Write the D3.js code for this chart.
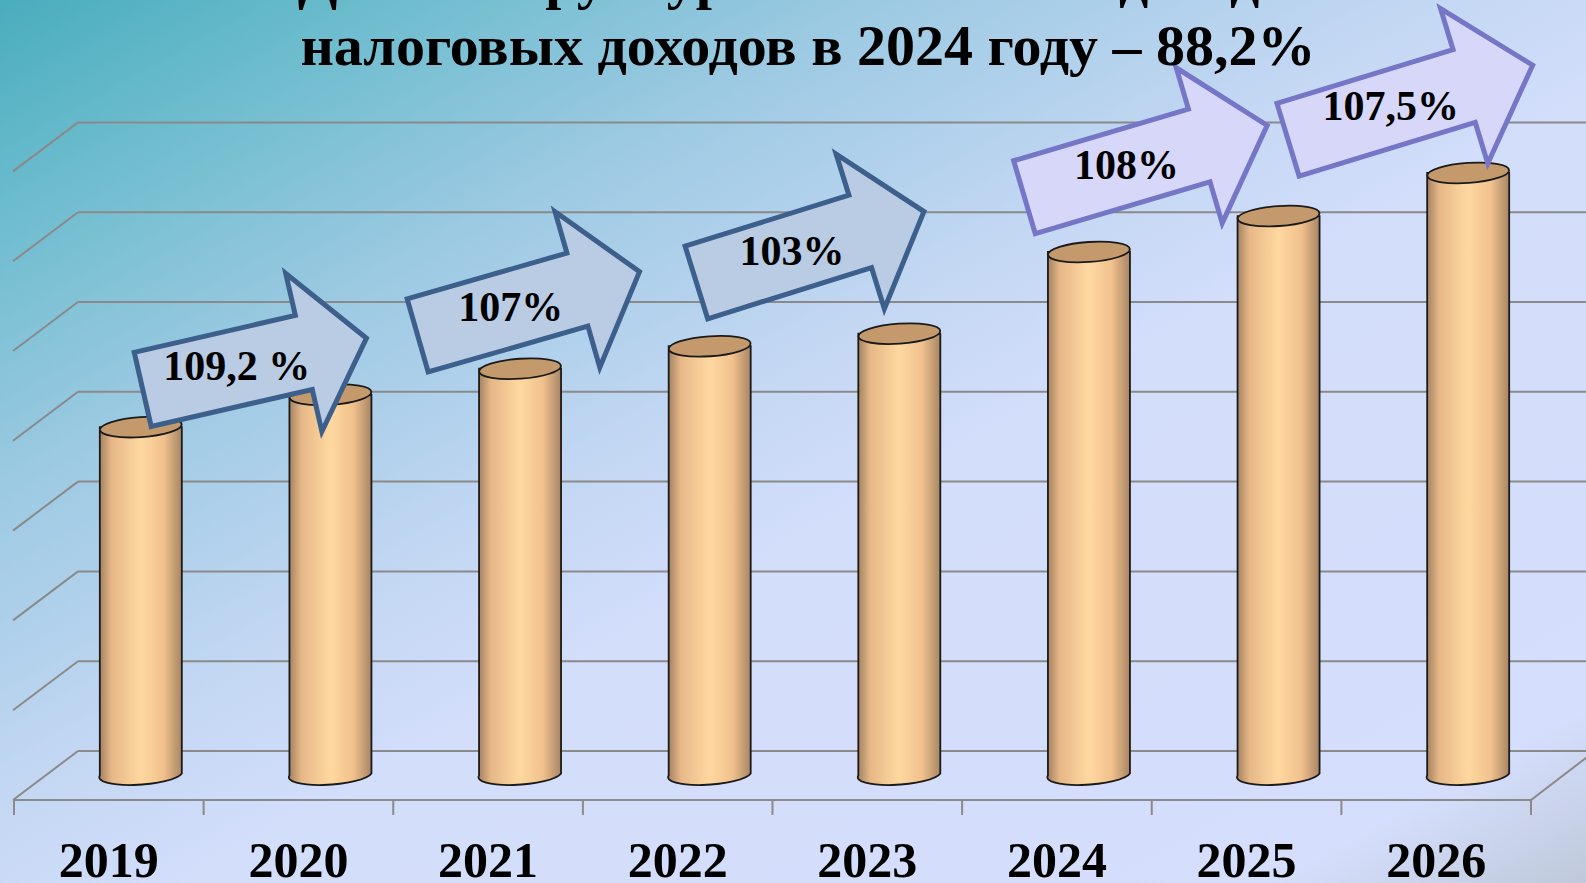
<html>

<head>
    <style>
        body { margin: 0; overflow: hidden; }
        text { font-family: "Liberation Serif", "Times New Roman", serif; font-weight: bold; }
    </style>
</head>

<body>
    <svg id="container" width="1586" height="883"></svg>
</body>
<script src="https://cdn.jsdelivr.net/npm/d3@7"></script>
<script>
    // chart data
    let years = ["2019", "2020", "2021", "2022", "2023", "2024", "2025", "2026"]
    let values = [3880, 4240, 4530, 4780, 4920, 5830, 6230, 6710]
    let gridTicks = [0, 1000, 2000, 3000, 4000, 5000, 6000, 7000]

    // growth arrows: label, start/end as (category index, value)
    let growthLabels = ["109,2 %", "107%", "103%", "108%", "107,5%"]
    let growthFromIdx = [0.01, 1.46, 2.93, 4.66, 6.05]
    let growthToIdx = [1.19, 2.63, 4.13, 5.94, 7.34]
    let growthFromVal = [4300, 4900, 5490, 6440, 7080]
    let growthToVal = [4870, 5610, 6280, 7240, 7910]

    let titleLines = ["Доля в структуре собственных доходов", "налоговых доходов в 2024 году – 88,2%"]

    let svg = d3.select("#container")
    let width = 1586, height = 883

    // 3D depth offset of the back wall
    let depthX = 64, depthY = -49

    let x = d3.scaleBand().domain(years).range([14, 1531])
    let y = d3.scaleLinear().domain([0, 7000]).range([800, 800 - 7 * 89.8])

    // background
    let defs = svg.append("defs")
    let bg = defs.append("linearGradient").attr("id", "bg")
        .attr("x1", 0).attr("y1", 0).attr("x2", 1).attr("y2", 1)
    ;[[0, "#49adbd"], [0.12, "#6cbccd"], [0.28, "#9dcae3"], [0.45, "#c3d7f3"],
      [0.56, "#d3defb"], [0.9, "#d5defc"], [1, "#bfc9da"]].forEach(s =>
        bg.append("stop").attr("offset", s[0]).attr("stop-color", s[1]))

    let cyl = defs.append("linearGradient").attr("id", "cyl")
        .attr("x1", 0).attr("y1", 0).attr("x2", 1).attr("y2", 0)
    ;[[0, "#a28060"], [0.15, "#e6b787"], [0.5, "#ffd8a0"], [0.78, "#f1c18d"], [1, "#a88564"]]
        .forEach(s => cyl.append("stop").attr("offset", s[0]).attr("stop-color", s[1]))

    svg.append("rect").attr("width", width).attr("height", height).attr("fill", "url(#bg)")

    // walls and floor grid
    let grid = svg.append("g").attr("stroke", "#8a8a8a").attr("stroke-width", 2).attr("fill", "none")
    grid.selectAll(".back").data(gridTicks).enter().append("line")
        .attr("x1", x.range()[0] + depthX).attr("x2", width + 20)
        .attr("y1", d => y(d) + depthY).attr("y2", d => y(d) + depthY)
    grid.selectAll(".side").data(gridTicks).enter().append("line")
        .attr("x1", x.range()[0] - 1).attr("y1", d => y(d))
        .attr("x2", x.range()[0] + depthX).attr("y2", d => y(d) + depthY)
    grid.append("path")
        .attr("d", `M${x.range()[0]},${y(0)} H${x.range()[1]} l${depthX},${depthY}`)
    grid.selectAll(".tick").data(d3.range(years.length + 1)).enter().append("line")
        .attr("x1", i => x.range()[0] + i * x.bandwidth()).attr("x2", i => x.range()[0] + i * x.bandwidth())
        .attr("y1", y(0)).attr("y2", y(0) + 15)

    // cylinders
    let r = 41, ry = 10
    let cx = d => x(d) + x.bandwidth() / 2 + depthX / 2
    let cyOf = v => y(v) + depthY / 2

    let bars = svg.selectAll(".bar").data(years.map((d, i) => ({ year: d, value: values[i] })))
        .enter().append("g")
    bars.append("path")
        .attr("d", d => {
            let c = cx(d.year), top = cyOf(d.value), bot = cyOf(0)
            return `M${c - r},${top} L${c - r},${bot} A${r},${ry} -4 0 0 ${c + r},${bot - 2} L${c + r},${top} Z`
        })
        .attr("fill", "url(#cyl)").attr("stroke", "#1a1a1a").attr("stroke-width", 1.8)
    bars.append("ellipse")
        .attr("cx", d => cx(d.year)).attr("cy", d => cyOf(d.value))
        .attr("rx", r).attr("ry", ry)
        .attr("transform", d => `rotate(-4,${cx(d.year)},${cyOf(d.value)})`)
        .attr("fill", "#c49a6c").attr("stroke", "#1a1a1a").attr("stroke-width", 1.8)

    // growth arrows
    let idxX = d3.scaleLinear().domain([0, years.length - 1]).range([cx(years[0]), cx(years[years.length - 1])])
    let arrows = growthLabels.map((label, i) => ({
        label: label,
        x0: idxX(growthFromIdx[i]), y0: cyOf(growthFromVal[i]),
        x1: idxX(growthToIdx[i]), y1: cyOf(growthToVal[i]),
        i: i
    }))

    let ag = svg.selectAll(".arrow").data(arrows).enter().append("g")
    ag.append("path")
        .attr("d", d => {
            let L = Math.hypot(d.x1 - d.x0, d.y1 - d.y0)
            let hl = L * 0.28, w = 38, h = 81
            return `M0,${-w} L${L - hl},${-w} L${L - hl},${-h} L${L},0 L${L - hl},${h} L${L - hl},${w} L0,${w} Z`
        })
        .attr("transform", d => `translate(${d.x0},${d.y0}) rotate(${Math.atan2(d.y1 - d.y0, d.x1 - d.x0) * 180 / Math.PI})`)
        .attr("fill", d => d.i < 3 ? "#b9cce4" : "#d7d7fa")
        .attr("stroke", d => d.i < 3 ? "#3d5f8c" : "#7676c6")
        .attr("stroke-width", 5)
        .attr("stroke-linejoin", "miter")
    ag.append("text")
        .attr("x", d => d.x0 + 0.42 * (d.x1 - d.x0))
        .attr("y", d => d.y0 + 0.42 * (d.y1 - d.y0) + 12)
        .attr("text-anchor", "middle")
        .style("font-size", "42px")
        .text(d => d.label)

    // year labels
    svg.selectAll(".year").data(years).enter().append("text")
        .attr("x", d => x(d) + x.bandwidth() / 2)
        .attr("y", 877)
        .attr("text-anchor", "middle")
        .style("font-size", "50px")
        .text(d => d)

    // title (first line is cut off by the top edge)
    svg.selectAll(".title").data(titleLines).enter().append("text")
        .attr("x", 808)
        .attr("y", (d, i) => -2 + i * 67)
        .attr("text-anchor", "middle")
        .style("font-size", "58px")
        .text(d => d)
</script>

</html>
